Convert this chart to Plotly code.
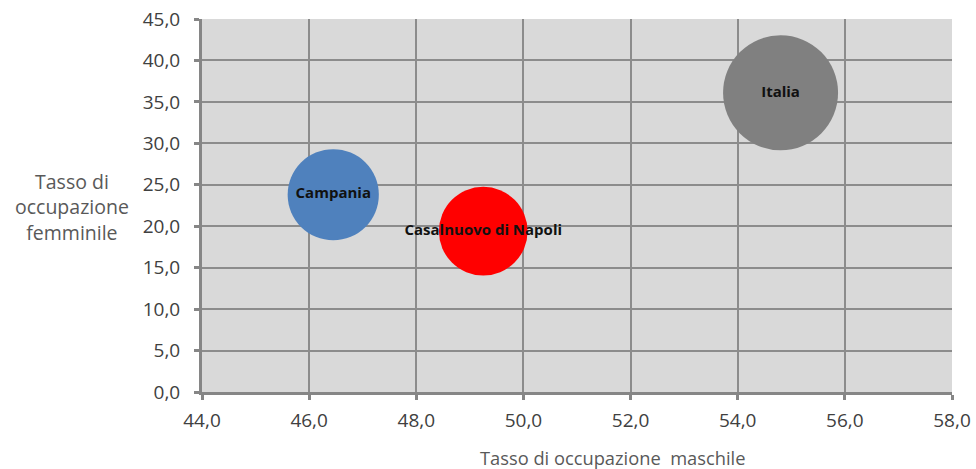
import plotly.graph_objects as go

# Employment rates by area
areas = ["Campania", "Casalnuovo di Napoli", "Italia"]
male_rate = [46.45, 49.25, 54.8]
female_rate = [23.8, 19.4, 36.1]
bubble_size = [36.0, 35.0, 45.4]
colors = ["#4f81bd", "#ff0000", "#808080"]

x_ticks = [44.0, 46.0, 48.0, 50.0, 52.0, 54.0, 56.0, 58.0]
y_ticks = [0.0, 5.0, 10.0, 15.0, 20.0, 25.0, 30.0, 35.0, 40.0, 45.0]

max_diameter_px = 115

fig = go.Figure()
fig.add_trace(go.Scatter(
    x=male_rate,
    y=female_rate,
    mode="markers+text",
    text=areas,
    textposition="middle center",
    textfont=dict(family="Open Sans", size=15, color="#111111", weight="bold"),
    marker=dict(
        size=bubble_size,
        sizemode="diameter",
        sizeref=max(bubble_size) / max_diameter_px,
        color=colors,
        opacity=1,
        line=dict(width=0),
    ),
    hoverinfo="skip",
    showlegend=False,
))

axis_common = dict(
    automargin=False,
    showgrid=True,
    gridcolor="#8c8c8c",
    gridwidth=1.5,
    showline=True,
    linecolor="#868686",
    linewidth=3,
    ticks="outside",
    ticklen=5,
    tickwidth=3,
    tickcolor="#868686",
    tickfont=dict(family="Open Sans", size=19, color="#404040"),
    tickformat=".1f",
    zeroline=False,
    mirror=False,
)

w, h = 976, 469
ml, mr, mt, mb = 202, 24, 19, 77
pw, ph = w - ml - mr, h - mt - mb


def px_x(px):
    return (px - ml) / pw


def px_y(py):
    return 1 - (py - mt) / ph


fig.update_layout(
    width=w,
    height=h,
    margin=dict(l=ml, r=mr, t=mt, b=mb, autoexpand=False),
    paper_bgcolor="white",
    plot_bgcolor="#d9d9d9",
    separators=",.",
    xaxis=dict(range=[44, 58], tickvals=x_ticks, ticklabelstandoff=4, **axis_common),
    yaxis=dict(range=[0, 45], tickvals=y_ticks, ticklabelstandoff=10, **axis_common),
    annotations=[
        dict(
            text="Tasso di occupazione  maschile",
            x=px_x(612), y=px_y(458), xref="paper", yref="paper",
            xanchor="center", yanchor="middle", showarrow=False,
            font=dict(family="Open Sans", size=18.3, color="#595959"),
        ),
        dict(
            text="Tasso di<br>occupazione<br>femminile",
            x=px_x(72), y=px_y(207), xref="paper", yref="paper",
            xanchor="center", yanchor="middle", showarrow=False,
            font=dict(family="Open Sans", size=19.5, color="#595959"),
        ),
    ],
)

fig.write_html("out.html")
